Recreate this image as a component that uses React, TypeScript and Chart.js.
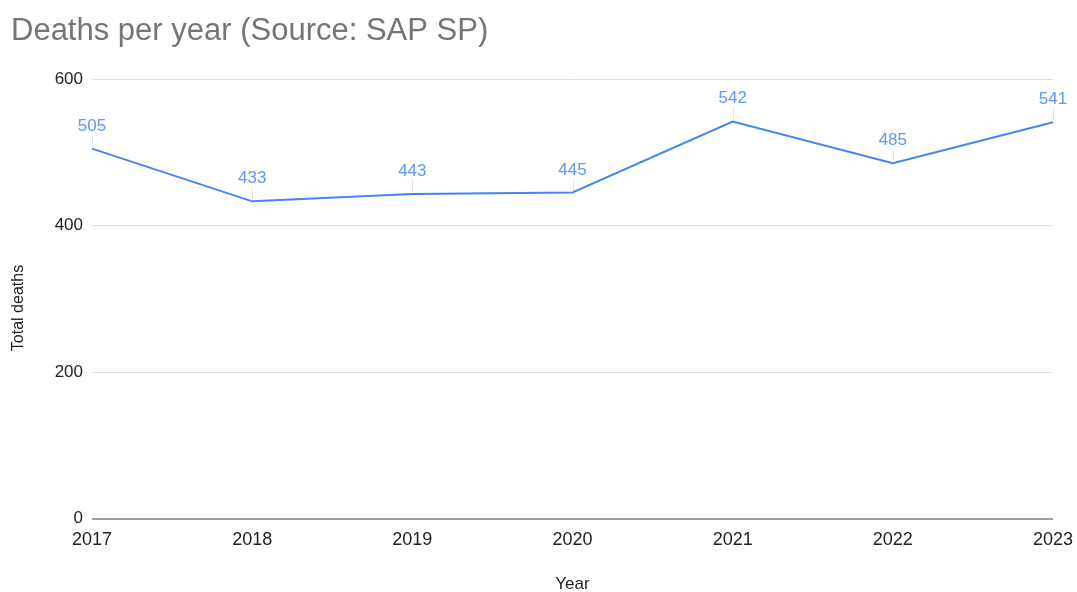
import React, { useEffect, useRef } from "react";
import { Chart, registerables } from "chart.js";

Chart.register(...registerables);

const years = ["2017", "2018", "2019", "2020", "2021", "2022", "2023"];
const deaths = [505, 433, 443, 445, 542, 485, 541];
const yTicks = [0, 200, 400, 600];
const chartTitle = "Deaths per year (Source: SAP SP)";
const yTitle = "Total deaths";
const xTitle = "Year";

const FONT = "'Liberation Sans', Arial, sans-serif";

const overlay = {
  id: "overlay",
  afterDatasetsDraw(chart: any) {
    const ctx = chart.ctx;
    const meta = chart.getDatasetMeta(0);
    ctx.save();
    meta.data.forEach((pt: any, i: number) => {
      ctx.strokeStyle = "#e3e3e3";
      ctx.lineWidth = 1;
      ctx.beginPath();
      ctx.moveTo(Math.round(pt.x) + 0.5, pt.y - 2);
      ctx.lineTo(Math.round(pt.x) + 0.5, pt.y - 14);
      ctx.stroke();
      ctx.fillStyle = "#5e97f6";
      ctx.font = `17px ${FONT}`;
      ctx.textAlign = "center";
      ctx.textBaseline = "alphabetic";
      ctx.fillText(String(deaths[i]), pt.x, pt.y - 18);
    });
    ctx.restore();
  },
  afterDraw(chart: any) {
    const ctx = chart.ctx;
    const area = chart.chartArea;
    ctx.save();
    ctx.fillStyle = "#757575";
    ctx.font = `31px ${FONT}`;
    ctx.textAlign = "left";
    ctx.textBaseline = "alphabetic";
    ctx.fillText(chartTitle, 11, 40);

    ctx.fillStyle = "#222";
    ctx.font = `17px ${FONT}`;
    ctx.textAlign = "center";
    ctx.textBaseline = "middle";
    ctx.fillText(xTitle, (area.left + area.right) / 2, 584);

    ctx.font = `16px ${FONT}`;
    ctx.translate(19, 308);
    ctx.rotate(-Math.PI / 2);
    ctx.fillText(yTitle, 0, 0);
    ctx.restore();
  },
};

export default function App() {
  const ref = useRef<HTMLCanvasElement>(null);
  useEffect(() => {
    const chart = new Chart(ref.current!, {
      type: "line",
      data: {
        labels: years,
        datasets: [
          {
            data: deaths,
            borderColor: "#4285f4",
            backgroundColor: "#4285f4",
            borderWidth: 2,
            pointRadius: 0,
            tension: 0,
          },
        ],
      },
      options: {
        animation: false,
        responsive: false,
        layout: { padding: { top: 79, right: 24, left: 0, bottom: 0 } },
        plugins: { legend: { display: false }, tooltip: { enabled: false }, title: { display: false } },
        scales: {
          x: {
            grid: { display: false, drawTicks: false },
            border: { display: false },
            ticks: { color: "#222", font: { family: FONT, size: 18 }, padding: 11, maxRotation: 0, autoSkip: false },
            afterFit(scale: any) {
              scale.height = 73.5;
              scale.paddingLeft = 0;
              scale.paddingRight = 0;
            },
          },
          y: {
            min: 0,
            max: 600,
            afterBuildTicks(scale: any) {
              scale.ticks = yTicks.map((v) => ({ value: v }));
            },
            grid: {
              drawTicks: false,
              color: (c: any) => (c.tick && c.tick.value === 0 ? "#9e9e9e" : "#e0e0e0"),
              lineWidth: (c: any) => (c.tick && c.tick.value === 0 ? 2 : 1),
            },
            border: { display: false },
            ticks: { color: "#222", font: { family: FONT, size: 17 }, padding: 9 },
            afterFit(scale: any) {
              scale.width = 92;
              scale.paddingTop = 0;
              scale.paddingBottom = 0;
            },
          },
        },
      },
      plugins: [overlay],
    });
    return () => chart.destroy();
  }, []);
  return (
    <div style={{ position: "fixed", left: 0, top: 0, width: 1077, height: 592, background: "#fff" }}>
      <canvas ref={ref} width={1077} height={592} style={{ display: "block" }} />
    </div>
  );
}
